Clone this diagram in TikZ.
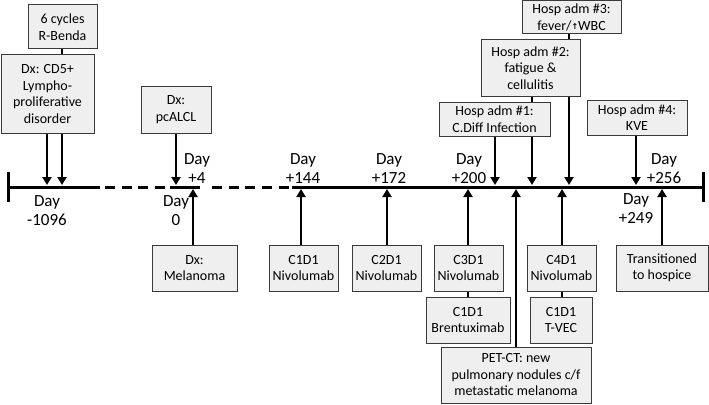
\documentclass[tikz,border=0pt]{standalone}
\usepackage{fontspec}
\setmainfont{Carlito}
\newfontfamily\dejavu{DejaVu Sans}
\usetikzlibrary{arrows.meta}
\definecolor{boxfill}{HTML}{EFEFEF}
\definecolor{boxline}{HTML}{3A3A3A}
\begin{document}
\begin{tikzpicture}[x=1pt,y=-1pt,
  box/.style={draw=boxline,fill=boxfill,line width=1pt,align=center,inner sep=0pt,
    font=\fontsize{14}{16.5}\selectfont},
  daylab/.style={align=center,inner sep=0pt,font=\fontsize{17}{19}\selectfont},
  arr/.style={line width=2.5pt,-{Triangle[length=8pt,width=9pt]}},
  conn/.style={line width=2.5pt},
  tl/.style={line width=3pt},
  tldash/.style={line width=3pt,dash pattern=on 10pt off 6.67pt}]
\useasboundingbox (0,0) rectangle (709,404);

% timeline
\coordinate (L) at (8,187);
\coordinate (R) at (703,187);
\draw[tl] (L) -- (100,187);
\draw[tldash] (105,187) -- (165,187);
\draw[tl] (170,187) -- (200,187);
\draw[tldash] (212,187) -- (288.7,187);
\draw[tl] (292,187) -- (R);
\draw[line width=3pt] (8,172) -- (8,202);
\draw[line width=3pt] (703,172) -- (703,202);

% boxes above
\node[box,minimum width=69pt,minimum height=44pt] (cycles) at (62.5,27) {6 cycles\\R-Benda};
\node[box,minimum width=93pt,minimum height=78pt] (dxcd5) at (47.5,94) {Dx: CD5+\\Lympho-\\proliferative\\disorder};
\node[box,minimum width=70pt,minimum height=47pt] (pcalcl) at (176,109.5) {Dx:\\pcALCL};
\node[box,minimum width=111pt,minimum height=34pt] (hosp1) at (494.5,119) {Hosp adm \#1:\\C.Diff Infection};
\node[box,minimum width=99pt,minimum height=56pt] (hosp2) at (530.5,68) {Hosp adm \#2:\\fatigue \&\\cellulitis};
\node[box,minimum width=99pt,minimum height=33pt] (hosp3) at (571.5,17.5) {Hosp adm \#3:\\fever/\raisebox{0.6pt}{\dejavu\bfseries\fontsize{8}{8}\selectfont↑}WBC};
\node[box,minimum width=100pt,minimum height=35pt] (hosp4) at (637,117.5) {Hosp adm \#4:\\KVE};

% boxes below
\node[box,minimum width=85pt,minimum height=46pt] (melanoma) at (194.5,268) {Dx:\\Melanoma};
\node[box,minimum width=69pt,minimum height=46pt] (c1nivo) at (303.5,268) {C1D1\\Nivolumab};
\node[box,minimum width=69pt,minimum height=46pt] (c2nivo) at (386.5,268) {C2D1\\Nivolumab};
\node[box,minimum width=69pt,minimum height=46pt] (c3nivo) at (468.5,268) {C3D1\\Nivolumab};
\node[box,minimum width=84pt,minimum height=46pt] (brent) at (468,320) {C1D1\\Brentuximab};
\node[box,minimum width=150pt,minimum height=56pt] (pet) at (516,375) {PET-CT: new\\pulmonary nodules c/f\\metastatic melanoma};
\node[box,minimum width=69pt,minimum height=46pt] (c4nivo) at (561.5,268) {C4D1\\Nivolumab};
\node[box,minimum width=62pt,minimum height=46pt] (tvec) at (561,320) {C1D1\\T-VEC};
\node[box,minimum width=92pt,minimum height=46pt] (hospice) at (662,268) {Transitioned\\to hospice};

% day labels
\node[daylab] (dm1096) at (47,211) {Day\\-1096};
\node[daylab] (d0) at (176,211) {Day\\0};
\node[daylab] (d4) at (197,169) {Day\\+4};
\node[daylab] (d144) at (303,169) {Day\\+144};
\node[daylab] (d172) at (389,169) {Day\\+172};
\node[daylab] (d200) at (469,169) {Day\\+200};
\node[daylab] (d256) at (664,169) {Day\\+256};
\node[daylab] (d249) at (636,209) {Day\\+249};

% timeline target points
\coordinate (tA) at (47,185);
\coordinate (tB) at (62,185);
\coordinate (t4) at (176,185);
\coordinate (th1) at (495,185);
\coordinate (th2) at (532,185);
\coordinate (th3) at (569,185);
\coordinate (th4) at (636,185);
\coordinate (t0) at (193,189);
\coordinate (t144) at (301,189);
\coordinate (t172) at (387,189);
\coordinate (t200) at (468,189);
\coordinate (tpet) at (516,189);
\coordinate (tc4) at (562,189);
\coordinate (thos) at (662,189);

% connectors from above
\draw[conn] (cycles.south -| tB) -- (dxcd5.north -| tB);
\draw[arr] (dxcd5.south -| tA) -- (tA);
\draw[arr] (dxcd5.south -| tB) -- (tB);
\draw[arr] (pcalcl.south -| t4) -- (t4);
\draw[arr] (hosp1.south -| th1) -- (th1);
\draw[conn] (hosp2.south -| th2) -- (hosp1.north -| th2);
\draw[arr] (hosp1.south -| th2) -- (th2);
\draw[conn] (hosp3.south -| th3) -- (hosp2.north -| th3);
\draw[arr] (hosp2.south -| th3) -- (th3);
\draw[arr] (hosp4.south -| th4) -- (th4);

% connectors from below
\draw[arr] (melanoma.north -| t0) -- (t0);
\draw[arr] (c1nivo.north -| t144) -- (t144);
\draw[arr] (c2nivo.north -| t172) -- (t172);
\draw[arr] (c3nivo.north -| t200) -- (t200);
\draw[conn] (brent.north -| t200) -- (c3nivo.south -| t200);
\draw[arr] (pet.north -| tpet) -- (tpet);
\draw[arr] (c4nivo.north -| tc4) -- (tc4);
\draw[conn] (tvec.north -| tc4) -- (c4nivo.south -| tc4);
\draw[arr] (hospice.north -| thos) -- (thos);
\end{tikzpicture}
\end{document}
